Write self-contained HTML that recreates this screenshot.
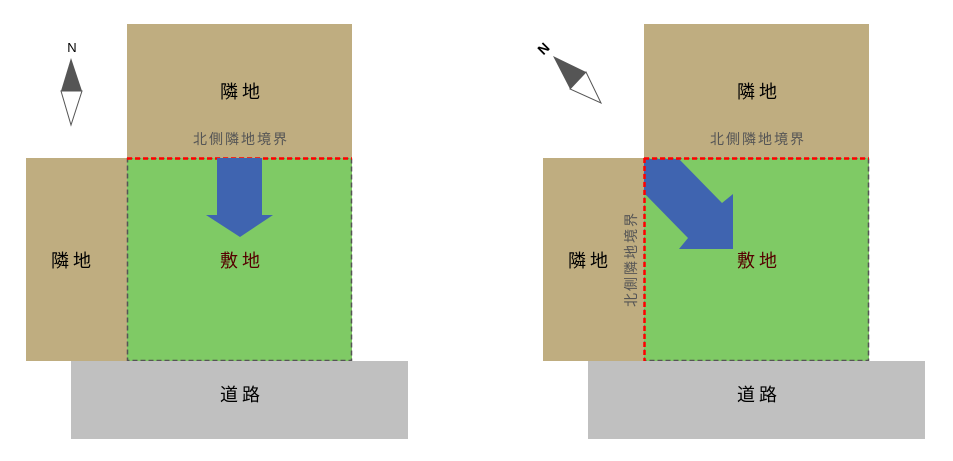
<!DOCTYPE html>
<html><head><meta charset="utf-8"><style>
html,body{margin:0;padding:0;background:#fff;}
svg{display:block;}
text{font-family:"Liberation Sans","Noto Sans CJK JP",sans-serif;}
.big{letter-spacing:4px;}
.sm{letter-spacing:2px;}
</style></head><body>
<svg width="953" height="461" viewBox="0 0 953 461" xmlns="http://www.w3.org/2000/svg">
<!-- LEFT -->
<g>
<rect x="127" y="24" width="225" height="134" fill="#bfad80"/>
<rect x="26" y="158" width="101" height="203" fill="#bfad80"/>
<rect x="127" y="158" width="225" height="203" fill="#7fca65"/>
<rect x="127.5" y="158.5" width="224" height="202" fill="none" stroke="#555" stroke-width="1.5" stroke-dasharray="5,3"/>
<line x1="127" y1="158.5" x2="352" y2="158.5" stroke="#f00" stroke-width="2.5" stroke-dasharray="5,3"/>
<rect x="71" y="361" width="337" height="78" fill="#c0c0c0"/>
<polygon points="217,158 262,158 262,215 273,215 240,237 206,215 217,215" fill="#3f64b0"/>
<text class="big" x="242" y="98" font-size="18" text-anchor="middle" fill="#000">隣地</text>
<text class="sm" x="241" y="144" font-size="14" text-anchor="middle" fill="#555">北側隣地境界</text>
<text class="big" x="73" y="267" font-size="18" text-anchor="middle" fill="#000">隣地</text>
<text class="big" x="242" y="267" font-size="18" text-anchor="middle" fill="#500">敷地</text>
<text class="big" x="242" y="401" font-size="18" text-anchor="middle" fill="#000">道路</text>
<text x="72" y="52" font-size="13" text-anchor="middle" fill="#000">N</text>
<polygon points="71,58 82,91 61,91" fill="#555"/>
<polygon points="61,91 82,91 71,125" fill="#fff" stroke="#555" stroke-width="1"/>
</g>
<!-- RIGHT -->
<g>
<rect x="644" y="24" width="225" height="134" fill="#bfad80"/>
<rect x="543" y="158" width="101" height="203" fill="#bfad80"/>
<rect x="644" y="158" width="225" height="203" fill="#7fca65"/>
<rect x="644.5" y="158.5" width="224" height="202" fill="none" stroke="#555" stroke-width="1.5" stroke-dasharray="5,3"/>
<rect x="588" y="361" width="337" height="78" fill="#c0c0c0"/>
<polygon points="644,159 679,159 722,203 733,194 733,249 679,249 688,238 644,193" fill="#3f64b0"/>
<line x1="644" y1="158.5" x2="869" y2="158.5" stroke="#f00" stroke-width="2.5" stroke-dasharray="5,3"/>
<line x1="644.5" y1="158" x2="644.5" y2="361" stroke="#f00" stroke-width="2.5" stroke-dasharray="5,3"/>
<text class="big" x="759" y="98" font-size="18" text-anchor="middle" fill="#000">隣地</text>
<text class="sm" x="758" y="144" font-size="14" text-anchor="middle" fill="#555">北側隣地境界</text>
<text class="big" x="590" y="267" font-size="18" text-anchor="middle" fill="#000">隣地</text>
<text class="big" x="759" y="267" font-size="18" text-anchor="middle" fill="#500">敷地</text>
<text class="big" x="759" y="401" font-size="18" text-anchor="middle" fill="#000">道路</text>
<text class="sm" transform="translate(636,259) rotate(-90)" font-size="14" text-anchor="middle" fill="#555">北側隣地境界</text>
<text transform="translate(547,52) rotate(-45)" font-size="14" font-weight="bold" text-anchor="middle" fill="#000">N</text>
<polygon points="553,56 586,72 570,89" fill="#555"/>
<polygon points="586,72 570,89 601,103" fill="#fff" stroke="#555" stroke-width="1"/>
</g>
</svg>
</body></html>
